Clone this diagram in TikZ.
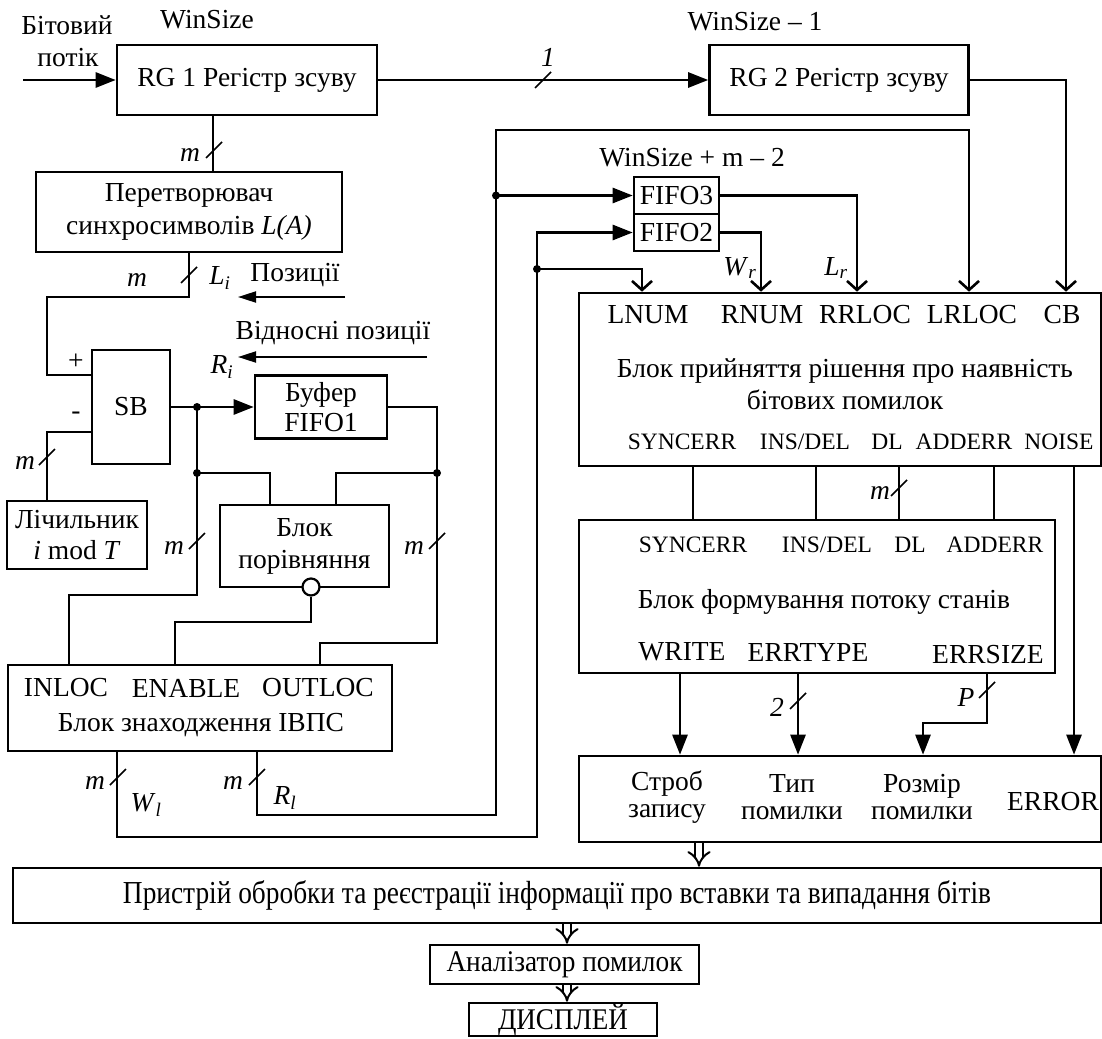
\documentclass[tikz,border=0pt]{standalone}
\usepackage{fontspec}
\setmainfont{Liberation Serif}
\usetikzlibrary{arrows.meta}
\begin{document}
\begin{tikzpicture}[x=1pt,y=-1pt,
  every node/.style={font=\fontsize{27.5}{31}\selectfont},
  box/.style={draw, line width=2.6pt, inner sep=0pt, align=center},
  lbl/.style={inner sep=0pt, align=center},
  small/.style={font=\fontsize{23.5}{27}\selectfont},
  wire/.style={line width=2.6pt},
  arr/.style={wire, -{Triangle[length=20pt,width=15pt]}},
  varr/.style={wire, -{Straight Barb[length=9pt,width=20pt]}},
  thinarr/.style={line width=2pt, -{Triangle[length=18pt,width=11pt]}},
  dbl/.style={double, double distance=6pt, line width=2pt, -{Implies[length=9pt,width=18pt]}},
  dot/.style={circle, fill, inner sep=0pt, minimum size=8pt},
  invc/.style={circle, draw, line width=2.2pt, fill=white, inner sep=0pt, minimum size=17pt},
  slash/.pic={\draw[line width=1.5pt] (-8,8) -- (8,-8);}
]
\useasboundingbox (0,0) rectangle (1102,1038);

% ---------- boxes ----------
\node[box, minimum width=260pt, minimum height=70pt] (rg1) at (247,80) {RG 1 Регістр зсуву};
\node[box, minimum width=259pt, minimum height=70pt] (rg2) at (839,80) {RG 2 Регістр зсуву};
\node[box, minimum width=306pt, minimum height=80pt, font=\fontsize{27.5}{33}\selectfont] (conv) at (189,212) {Перетворювач\\синхросимволів \textit{L(A)}};
\node[box, minimum width=78pt, minimum height=114pt] (sb) at (131,407) {SB};
\node[box, minimum width=140pt, minimum height=68pt] (cnt) at (77,535) {Лічильник\\\textit{i} mod \textit{T}};
\node[box, minimum width=132pt, minimum height=63pt, font=\fontsize{27.5}{30}\selectfont] (fifo1) at (321,407) {Буфер\\FIFO1};
\node[box, minimum width=169pt, minimum height=82pt, font=\fontsize{27.5}{32}\selectfont] (cmp) at (304.5,546) {Блок\\порівняння};
\node[invc] (inv) at (311,587) {};
\node[box, minimum width=384pt, minimum height=86pt] (find) at (200,708) {};
\node[box, minimum width=85pt, minimum height=37pt, font=\fontsize{27.5}{30}\selectfont] (fifo3) at (676.5,195.5) {FIFO3};
\node[box, minimum width=85pt, minimum height=37pt, font=\fontsize{27.5}{30}\selectfont] (fifo2) at (676.5,232.5) {FIFO2};
\node[box, minimum width=522pt, minimum height=173pt] (dec) at (840,379.5) {};
\node[box, minimum width=476pt, minimum height=153pt] (st) at (817,596.5) {};
\node[box, minimum width=522pt, minimum height=86pt] (out) at (840,799) {};
\node[box, minimum width=1088pt, minimum height=55pt, font=\fontsize{32}{34}\selectfont] (dev) at (557,895.5) {\resizebox{868pt}{\height}{Пристрій обробки та реєстрації інформації про вставки та випадання бітів}};
\node[box, minimum width=269pt, minimum height=39pt, font=\fontsize{30}{32}\selectfont] (an) at (564.5,964.5) {\resizebox{236pt}{\height}{Аналізатор помилок}};
\node[box, minimum width=188pt, minimum height=33pt, font=\fontsize{30}{32}\selectfont] (disp) at (563,1019.5) {\resizebox{130pt}{\height}{ДИСПЛЕЙ}};

% ---------- labels ----------
\node[lbl] (tbit1) at (67,25) {Бітовий};
\node[lbl] (tbit2) at (68,58) {потік};
\node[lbl] (tws) at (207,20) {WinSize};
\node[lbl] (tws1) at (755,22) {WinSize – 1};
\node[lbl] (tws2) at (692,158) {WinSize + m – 2};
\node[lbl] (tone) at (548,57) {\textit{1}};
\node[lbl] (tm1) at (190,155) {\textit{m}};
\node[lbl] (tm2) at (137,280) {\textit{m}};
\node[lbl] (tLi) at (220,278) {\textit{L}\textsubscript{\textit{i}}};
\node[lbl] (tpos) at (295,275) {Позиції};
\node[lbl] (trel) at (333,333) {Відносні позиції};
\node[lbl] (tRi) at (222,367) {\textit{R}\textsubscript{\textit{i}}};
\node[lbl] (tplus) at (76,362) {+};
\node[lbl] (tminus) at (76,416) {-};
\node[lbl] (tm3) at (25,463) {\textit{m}};
\node[lbl] (tm4) at (174,548) {\textit{m}};
\node[lbl] (tm5) at (414,548) {\textit{m}};
\node[lbl] (tinloc) at (66,688) {INLOC};
\node[lbl] (tenable) at (186,688) {ENABLE};
\node[lbl] (toutloc) at (318,688) {OUTLOC};
\node[lbl] (tfind) at (201,725) {Блок знаходження ІВПС};
\node[lbl] (tm6) at (95,783) {\textit{m}};
\node[lbl] (tm7) at (233,783) {\textit{m}};
\node[lbl] (tWl) at (146,805) {\textit{W}\textsubscript{\textit{l}}};
\node[lbl] (tRl) at (285,798) {\textit{R}\textsubscript{\textit{l}}};
\node[lbl] (tWr) at (740,268) {\textit{W}\textsubscript{\textit{r}}};
\node[lbl] (tLr) at (836,268) {\textit{L}\textsubscript{\textit{r}}};

\node[lbl] (tlnum) at (648,315) {LNUM};
\node[lbl] (trnum) at (762,315) {RNUM};
\node[lbl] (trrloc) at (865,315) {RRLOC};
\node[lbl] (tlrloc) at (972,315) {LRLOC};
\node[lbl] (tcb) at (1062,315) {CB};
\node[lbl, font=\fontsize{27.5}{32}\selectfont] (tdec) at (845,384) {Блок прийняття рішення про наявність\\бітових помилок};
\node[lbl, small] (ts1) at (682,442) {SYNCERR};
\node[lbl, small] (ts2) at (805,442) {INS/DEL};
\node[lbl, small] (ts3) at (887,442) {DL};
\node[lbl, small] (ts4) at (964,442) {ADDERR};
\node[lbl, small] (ts5) at (1059,442) {NOISE};

\node[lbl] (tm8) at (880,493) {\textit{m}};
\node[lbl, small] (tu1) at (693,545) {SYNCERR};
\node[lbl, small] (tu2) at (827,545) {INS/DEL};
\node[lbl, small] (tu3) at (910,545) {DL};
\node[lbl, small] (tu4) at (995,545) {ADDERR};
\node[lbl] (tst) at (824,602) {Блок формування потоку станів};
\node[lbl] (twrite) at (682,652) {WRITE};
\node[lbl] (terrtype) at (808,652) {ERRTYPE};
\node[lbl] (terrsize) at (988,655) {ERRSIZE};
\node[lbl] (ttwo) at (777,707) {\textit{2}};
\node[lbl] (tP) at (966,697) {\textit{P}};

\node[lbl, font=\fontsize{27.5}{27}\selectfont] (to1) at (667,797) {Строб\\запису};
\node[lbl, font=\fontsize{27.5}{27}\selectfont] (to2) at (792,797) {Тип\\помилки};
\node[lbl, font=\fontsize{27.5}{27}\selectfont] (to3) at (922,797) {Розмір\\помилки};
\node[lbl] (to4) at (1053,802) {ERROR};

% ---------- dots ----------
\node[dot] (d1) at (197,407) {};
\node[dot] (d2) at (197,473) {};
\node[dot] (d3) at (437,473) {};
\node[dot] (d4) at (496,195.5) {};
\node[dot] (d5) at (537,269) {};

% ---------- connectors ----------
\coordinate (src) at (23,80);
\draw[arr] (src) -- (rg1.west);
\draw[arr] (rg1.east) -- (rg2.west);
\draw[wire] ([xshift=-34pt]rg1.south) -- ([xshift=24pt]conv.north);
\draw[wire] (conv.south) |- (47,297) |- ([yshift=32pt]sb.west);
\draw[wire] ([yshift=-25pt]sb.west) -| ([xshift=-30pt]cnt.north);

\coordinate (pa1) at (345,297); \coordinate (pa2) at (238,297);
\draw[thinarr] (pa1) -- (pa2);
\coordinate (ra1) at (427,357); \coordinate (ra2) at (238,357);
\draw[thinarr] (ra1) -- (ra2);

\draw[arr] (sb.east) -- (fifo1.west);
\draw[wire] (fifo1.east) -| (d3.center);
\draw[wire] (d1.center) -- (d2.center);
\draw[wire] (d2.center) -- (197,595) -| ([xshift=-131pt]find.north);
\draw[wire] (d2.center) -| ([xshift=-34.5pt]cmp.north);
\draw[wire] (d3.center) -| ([xshift=31.5pt]cmp.north);
\draw[wire] (inv.south) -- (311,622) -| ([xshift=-25pt]find.north);
\draw[wire] (d3.center) -- (437,643) -| ([xshift=120pt]find.north);

\draw[arr] ([xshift=-83pt]find.south) |- (537,837) |- (fifo2.west);
\draw[arr] ([xshift=57pt]find.south) |- (496,815) |- (fifo3.west);
\draw[varr] (d4.center) |- (969,130) -- ([xshift=129pt]dec.north);
\draw[varr] (d5.center) -| ([xshift=-198pt]dec.north);
\draw[varr] (fifo3.east) -| ([xshift=17pt]dec.north);
\draw[varr] (fifo2.east) -| ([xshift=-79pt]dec.north);
\draw[varr] (rg2.east) -| ([xshift=226pt]dec.north);

\draw[wire] ([xshift=-147pt]dec.south) -- ([xshift=-124pt]st.north);
\draw[wire] ([xshift=-24pt]dec.south) -- ([xshift=-1pt]st.north);
\draw[wire] ([xshift=59pt]dec.south) -- ([xshift=82pt]st.north);
\draw[wire] ([xshift=154pt]dec.south) -- ([xshift=177pt]st.north);
\draw[arr] ([xshift=234pt]dec.south) -- ([xshift=234pt]out.north);

\draw[arr] ([xshift=-137pt]st.south) -- ([xshift=-160pt]out.north);
\draw[arr] ([xshift=-19pt]st.south) -- ([xshift=-42pt]out.north);
\draw[arr] ([xshift=170pt]st.south) -- (987,723) -| ([xshift=83pt]out.north);

\draw[dbl] ([xshift=-141pt]out.south) -- ([xshift=142pt]dev.north);
\draw[dbl] ([xshift=10pt]dev.south) -- ([xshift=2.5pt]an.north);
\draw[dbl] ([xshift=2.5pt]an.south) -- ([xshift=4pt]disp.north);

% ---------- bus marks ----------
\pic at (543,80) {slash};
\pic at (214,150) {slash};
\pic at (189,275) {slash};
\pic at (47,457) {slash};
\pic at (197,541) {slash};
\pic at (437,541) {slash};
\pic at (118,777) {slash};
\pic at (257,777) {slash};
\pic at (899,488) {slash};
\pic at (798,701) {slash};
\pic at (987,690) {slash};
\end{tikzpicture}
\end{document}
